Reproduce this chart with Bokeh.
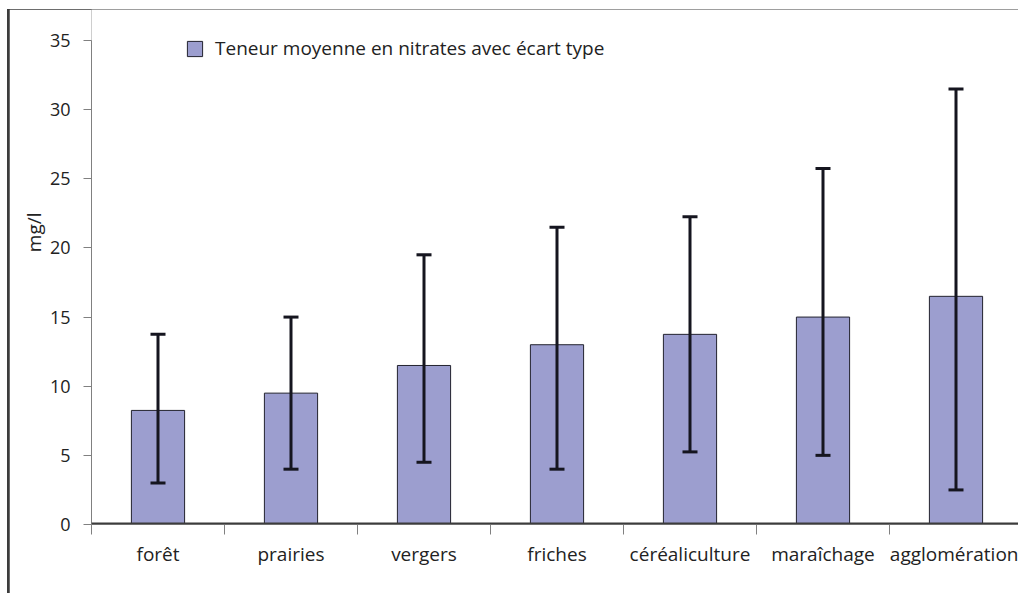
from bokeh.plotting import figure
from bokeh.layouts import column
from bokeh.models import (Range1d, FixedTicker, Whisker, TeeHead, ColumnDataSource,
                          Legend, LegendItem, Title, Span)
from bokeh.embed import file_html
from bokeh.resources import INLINE

categories = ["forêt", "prairies", "vergers", "friches", "céréaliculture", "maraîchage", "agglomération"]
means = [8.25, 9.5, 11.5, 13.0, 13.75, 15.0, 16.5]
upper = [13.75, 15.0, 19.5, 21.5, 22.25, 25.75, 31.5]
lower = [3.0, 4.0, 4.5, 4.0, 5.25, 5.0, 2.5]
y_ticks = [0, 5, 10, 15, 20, 25, 30, 35]
legend_label = "Teneur moyenne en nitrates avec écart type"
y_label = "mg/l"

FONT = "Open Sans"
TXT = "#222222"
AX = "#808080"
FRAME = "#3c3c3c"
FS = "19px"

x = [i + 0.5 for i in range(len(categories))]
src = ColumnDataSource(dict(x=x, mean=means, upper=upper, lower=lower, cat=categories))

# frame: 515 px tall, of which the 0..35 axis uses the lower 484 px
p = figure(width=1009, height=584, output_backend="svg", toolbar_location=None,
           x_range=Range1d(0, 927 / 133), y_range=Range1d(0, 35 * 515 / 484),
           min_border_left=82, min_border_right=0, min_border_top=0, min_border_bottom=69)
p.outline_line_color = None
p.xgrid.visible = False
p.ygrid.visible = False

# top line of the outer frame
p.add_layout(Span(location=1, location_units="screen", dimension="width",
                  line_color=FRAME, line_width=2))

bars = p.vbar(x="x", top="mean", width=0.4, bottom=0, source=src,
              fill_color="#9c9ecf", line_color="#22222e", line_width=1)

w = Whisker(base="x", upper="upper", lower="lower", source=src,
            line_color="#15151f", line_width=3, level="overlay",
            upper_head=TeeHead(size=15, line_width=3, line_color="#15151f"),
            lower_head=TeeHead(size=15, line_width=3, line_color="#15151f"))
p.add_layout(w)

# x axis: labels at centres, tick marks at category boundaries
xa = p.xaxis[0]
xa.ticker = FixedTicker(ticks=x, minor_ticks=list(range(len(categories) + 1)))
xa.major_label_overrides = {xi: c for xi, c in zip(x, categories)}
xa.major_tick_line_color = None
xa.major_tick_out = 0
xa.major_tick_in = 0
xa.minor_tick_out = 10
xa.minor_tick_in = 0
xa.minor_tick_line_color = AX
xa.axis_line_color = AX
xa.major_label_standoff = 6
xa.major_label_text_font = FONT
xa.major_label_text_font_size = FS
xa.major_label_text_color = TXT

ya = p.yaxis[0]
ya.ticker = FixedTicker(ticks=y_ticks)
ya.bounds = (0, 35)
ya.major_tick_out = 8
ya.major_tick_in = 0
ya.minor_tick_line_color = None
ya.major_tick_line_color = AX
ya.axis_line_color = AX
ya.major_label_standoff = 13
ya.major_label_text_font = FONT
ya.major_label_text_font_size = "18px"
ya.major_label_text_color = TXT

yl = Title(text=y_label, align="right", offset=203, standoff=0,
           text_font=FONT, text_font_size=FS, text_font_style="normal",
           text_color=TXT)
p.add_layout(yl, "left")

legend = Legend(items=[LegendItem(label=legend_label, renderers=[bars])],
                location=(94, 463), padding=0, margin=0, spacing=0,
                glyph_width=19, glyph_height=19, label_height=19, label_standoff=11,
                label_text_font=FONT, label_text_font_size=FS,
                label_text_color=TXT, border_line_color=None,
                background_fill_alpha=0)
p.add_layout(legend)

# dark frame line on the left: a dark 2px padding beside the white canvas
inner = column(p, styles={"background-color": FRAME, "padding-left": "2px"})
page = column(inner, styles={"padding-left": "7px", "padding-top": "9px"})

open("out.html", "w").write(file_html(page, INLINE))
